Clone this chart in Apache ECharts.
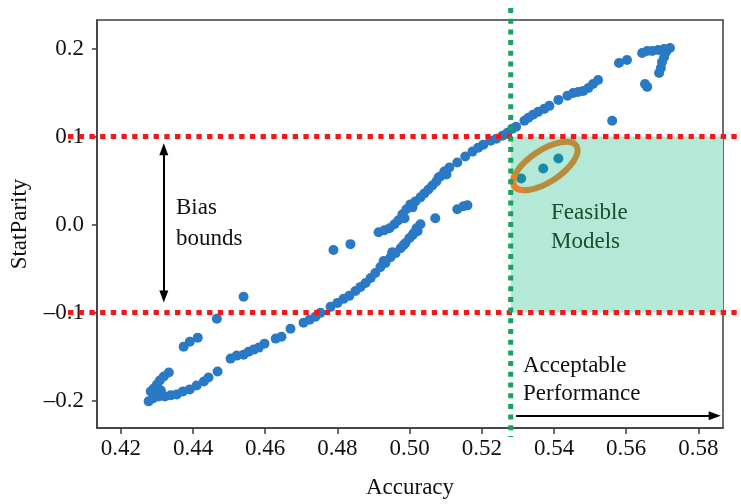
<!DOCTYPE html>
<html>
<head>
<meta charset="utf-8">
<script src="https://cdn.jsdelivr.net/npm/echarts@6/dist/echarts.min.js"></script>
<style>html,body{margin:0;padding:0;background:#fff}#chart{width:741px;height:504px}</style>
</head>
<body>
<div id="chart"></div>
<script>
// ---- data ----
const accuracy = [
  0.4277,0.4289,0.4297,0.4291,0.4300,0.4308,0.4319,0.4333,0.4305,0.4322,
  0.4338,0.4355,0.4372,0.4391,0.4410,0.4430,0.4443,0.4468,0.4504,0.4521,
  0.4540,0.4554,0.4568,0.4582,0.4598,0.4629,0.4645,0.4670,0.4706,0.4723,
  0.4739,0.4753,0.4781,0.4800,0.4817,0.4833,0.4850,0.4864,0.4878,0.4892,
  0.4905,0.4919,0.4933,0.4947,0.4961,0.4975,0.4988,0.4999,0.5011,0.5019,
  0.5030,0.4374,0.4391,0.4413,0.4466,0.4540,0.4789,0.4836,0.5071,0.5132,
  0.5149,0.5160,0.4914,0.4930,0.4944,0.4958,0.4969,0.4980,0.4991,0.5002,
  0.5016,0.5030,0.5041,0.5052,0.5063,0.5074,0.5085,0.5096,0.5110,0.5132,
  0.5154,0.5174,0.5190,0.5204,0.5224,0.5240,0.5257,0.5271,0.5284,0.5295,
  0.5318,0.5329,0.5342,0.5356,0.5373,0.5387,0.5412,0.5437,0.5453,0.5467,
  0.5481,0.5495,0.5508,0.5522,0.5561,0.5580,0.5602,0.5644,0.5658,0.5672,
  0.5688,0.5705,0.5721,0.5710,0.5705,0.5699,0.5696,0.5691,0.5658,0.5652,
  0.5008,0.5022,0.4983,0.4952,0.4928,0.5008,0.5080,0.5102,0.4986,0.4283,
  0.4311
];
const statParity = [
  -0.2010,-0.1976,-0.1931,-0.1863,-0.1818,-0.1773,-0.1728,-0.1683,-0.1954,-0.1954,
  -0.1942,-0.1931,-0.1897,-0.1874,-0.1829,-0.1784,-0.1739,-0.1671,-0.1524,-0.1490,
  -0.1479,-0.1445,-0.1422,-0.1399,-0.1354,-0.1297,-0.1275,-0.1185,-0.1117,-0.1083,
  -0.1049,-0.1004,-0.0936,-0.0891,-0.0845,-0.0811,-0.0755,-0.0709,-0.0664,-0.0607,
  -0.0551,-0.0484,-0.0438,-0.0371,-0.0325,-0.0269,-0.0212,-0.0155,-0.0099,-0.0042,
  0.0003,-0.1388,-0.1332,-0.1286,-0.1071,-0.0822,-0.0290,-0.0223,0.0071,0.0173,
  0.0207,0.0218,-0.0087,-0.0065,-0.0042,0.0003,0.0048,0.0116,0.0173,0.0229,
  0.0263,0.0309,0.0354,0.0399,0.0444,0.0490,0.0546,0.0603,0.0648,0.0705,
  0.0773,0.0829,0.0874,0.0908,0.0953,0.0976,0.1010,0.1044,0.1089,0.1112,
  0.1179,0.1213,0.1247,0.1281,0.1315,0.1349,0.1417,0.1463,0.1496,0.1507,
  0.1519,0.1553,0.1598,0.1643,0.1179,0.1836,0.1870,0.1949,0.1972,0.1972,
  0.1983,0.1995,0.2006,0.1961,0.1904,0.1848,0.1780,0.1723,0.1565,0.1598,
  -0.0121,-0.0076,-0.0234,-0.0314,-0.0415,0.0195,0.0535,0.0569,0.0071,-0.1897,
  -0.1886
];
const feasibleAccuracy = [0.5309, 0.5370, 0.5412];
const feasibleStatParity = [0.0524, 0.0637, 0.0750];
const xTicks = [0.42, 0.44, 0.46, 0.48, 0.50, 0.52, 0.54, 0.56, 0.58];
const yTicks = [-0.2, -0.1, 0.0, 0.1, 0.2];
const biasBounds = [-0.1, 0.1];
const perfThreshold = 0.528;
const xRange = [0.4134, 0.5868];
const yRange = [-0.2313, 0.2325];
const biasArrow = [[0.4319, 0.0855], [0.4319, -0.0819]];
const perfArrow = [[0.5295, -0.2175], [0.5845, -0.2175]];
const ellipseCenter = [0.5376, 0.0665];

// ---- chart ----
const FONT = '"Liberation Serif", "DejaVu Serif", serif';
const AX = '#3c3a44';
const chart = echarts.init(document.getElementById('chart'), null, {renderer: 'canvas'});
chart.setOption({
  animation: false,
  backgroundColor: '#ffffff',
  grid: {left: 96, right: 18, top: 20, bottom: 74, show: true, borderColor: AX, borderWidth: 1.5, backgroundColor: 'transparent'},
  xAxis: {
    type: 'value', min: xRange[0], max: xRange[1],
    name: 'Accuracy', nameLocation: 'middle', nameGap: 48,
    nameTextStyle: {fontFamily: FONT, fontSize: 23, color: '#111'},
    axisLine: {show: true, onZero: false, lineStyle: {color: AX, width: 1.5}},
    axisTick: {show: true, length: 6, customValues: xTicks, lineStyle: {color: AX, width: 1.5}},
    axisLabel: {customValues: xTicks, formatter: v => v.toFixed(2), fontFamily: FONT, fontSize: 23, color: '#111', margin: 9},
    splitLine: {show: false}
  },
  yAxis: {
    type: 'value', min: yRange[0], max: yRange[1],
    name: 'StatParity', nameLocation: 'middle', nameGap: 66,
    nameTextStyle: {fontFamily: FONT, fontSize: 23, color: '#111'},
    axisLine: {show: true, onZero: false, lineStyle: {color: AX, width: 1.5}},
    axisTick: {show: true, length: 5, customValues: yTicks, lineStyle: {color: AX, width: 1.5}},
    axisLabel: {customValues: yTicks, formatter: v => (v < 0 ? '\u2013' : '') + Math.abs(v).toFixed(1), fontFamily: FONT, fontSize: 23, color: '#111', margin: 13},
    splitLine: {show: false}
  },
  series: [
    {
      type: 'scatter', z: 1, data: [], silent: true,
      markArea: {
        silent: true,
        itemStyle: {color: '#b4e8d7', opacity: 1},
        data: [[{xAxis: perfThreshold, yAxis: biasBounds[0]}, {xAxis: xRange[1], yAxis: biasBounds[1]}]]
      }
    },
    {
      type: 'scatter', z: 3, symbolSize: 10,
      itemStyle: {color: '#2a79c6', opacity: 1},
      data: accuracy.map((x, i) => [x, statParity[i]])
    },
    {
      type: 'scatter', z: 3, symbolSize: 10,
      itemStyle: {color: '#1a8ba6', opacity: 1},
      data: feasibleAccuracy.map((x, i) => [x, feasibleStatParity[i]])
    },
    {
      type: 'scatter', z: 4, data: [], silent: true,
      markLine: {
        silent: true, animation: false,
        label: {show: false},
        lineStyle: {color: '#000', width: 2, type: 'solid'},
        symbol: ['triangle', 'triangle'], symbolSize: [9, 12],
        data: [
          [{coord: biasArrow[0]}, {coord: biasArrow[1]}],
          [{coord: perfArrow[0], symbol: 'none'}, {coord: perfArrow[1]}]
        ]
      }
    }
  ]
});

function px(x, y) { return chart.convertToPixel({xAxisIndex: 0, yAxisIndex: 0}, [x, y]); }
const gx = px(perfThreshold, 0)[0];
const yHi = px(0, biasBounds[1])[1];
const yLo = px(0, biasBounds[0])[1];
const ec = px(ellipseCenter[0], ellipseCenter[1]);
const RX = 37, RY = 16;
const orangeArc = [];
for (let a = 2.55; a <= 3.75; a += 0.05) orangeArc.push([RX * Math.cos(a), RY * Math.sin(a)]);
const textStyle = (t, fill) => ({text: t, fill: fill, fontFamily: FONT, fontSize: 23, align: 'left', verticalAlign: 'middle'});
chart.setOption({
  graphic: [
    {type: 'line', z: 50, shape: {x1: 68, y1: yHi, x2: 741, y2: yHi}, style: {stroke: '#f01818', lineWidth: 5, lineDash: [5.3, 5.4], lineCap: 'butt'}},
    {type: 'line', z: 50, shape: {x1: 68, y1: yLo, x2: 741, y2: yLo}, style: {stroke: '#f01818', lineWidth: 5, lineDash: [5.3, 5.4], lineCap: 'butt'}},
    {type: 'line', z: 51, shape: {x1: gx, y1: 8, x2: gx, y2: 437}, style: {stroke: '#16a35e', lineWidth: 5, lineDash: [5, 5.7], lineCap: 'butt'}},
    {type: 'ellipse', z: 40, x: ec[0], y: ec[1], rotation: 33 * Math.PI / 180, shape: {cx: 0, cy: 0, rx: RX, ry: RY}, style: {fill: 'none', stroke: '#b98c3c', lineWidth: 6}},
    {type: 'polyline', z: 41, x: ec[0], y: ec[1], rotation: 33 * Math.PI / 180, shape: {points: orangeArc}, style: {fill: 'none', stroke: '#e8802e', lineWidth: 6}},
    {type: 'text', z: 60, x: 176, y: 208, style: textStyle('Bias', '#111')},
    {type: 'text', z: 60, x: 176, y: 239, style: textStyle('bounds', '#111')},
    {type: 'text', z: 60, x: 551, y: 213, style: textStyle('Feasible', '#1b4d2b')},
    {type: 'text', z: 60, x: 551, y: 242, style: textStyle('Models', '#1b4d2b')},
    {type: 'text', z: 60, x: 523, y: 366, style: textStyle('Acceptable', '#111')},
    {type: 'text', z: 60, x: 523, y: 394, style: textStyle('Performance', '#111')}
  ]
});
</script>
</body>
</html>
